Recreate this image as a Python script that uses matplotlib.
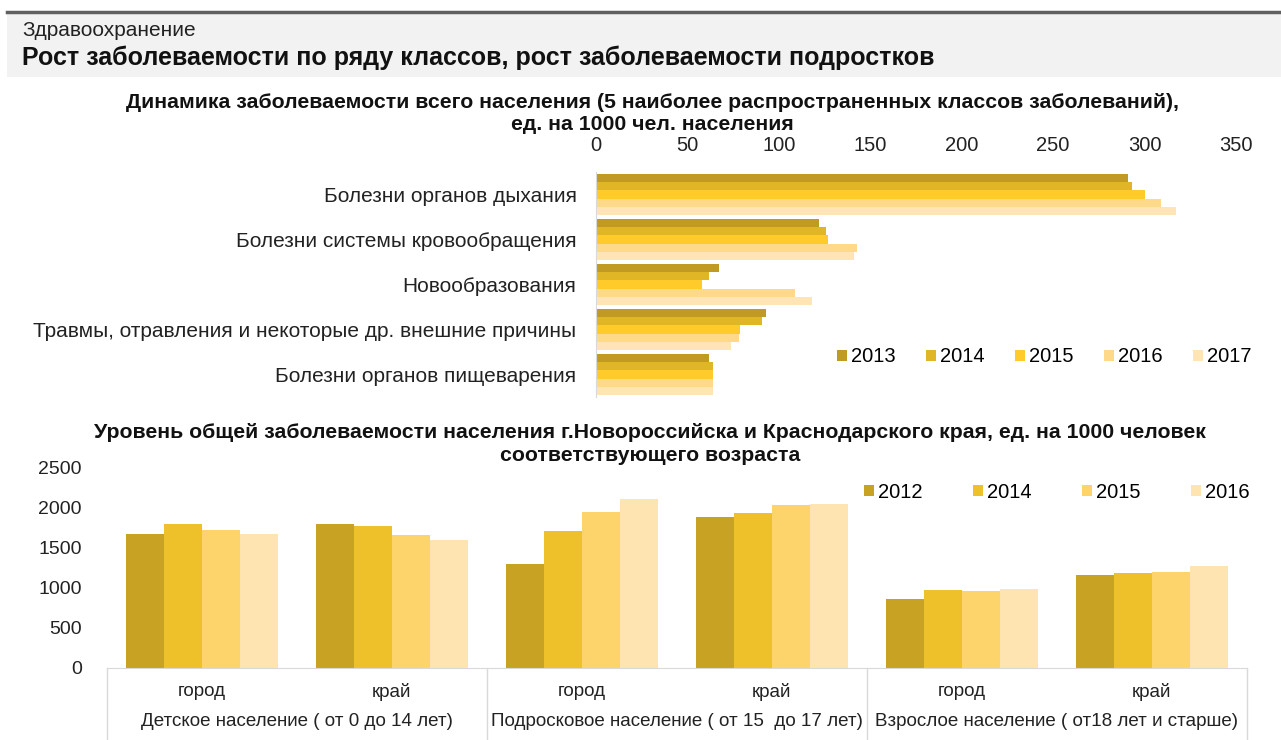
import numpy as np
import matplotlib
matplotlib.use("Agg")
import matplotlib.pyplot as plt
from matplotlib.patches import Rectangle
from matplotlib.lines import Line2D

plt.rcParams['font.family'] = ['Liberation Sans', 'DejaVu Sans']

# top chart data
diseases = ["Болезни органов дыхания", "Болезни системы кровообращения", "Новообразования",
            "Травмы, отравления и некоторые др. внешние причины", "Болезни органов пищеварения"]
top_years = ["2013", "2014", "2015", "2016", "2017"]
v2013 = [291, 122, 67, 93, 62]
v2014 = [293, 126, 62, 91, 64]
v2015 = [300, 127, 58, 79, 64]
v2016 = [309, 143, 109, 78, 64]
v2017 = [317, 141, 118, 74, 64]
top_vals = [v2013, v2014, v2015, v2016, v2017]
top_colors = ["#c09a22", "#e0b526", "#ffcb2a", "#ffd98a", "#ffe5b6"]

# bottom chart data
places = ["город", "край", "город", "край", "город", "край"]
groups = ["Детское население ( от 0 до 14 лет)", "Подросковое население ( от 15  до 17 лет)",
          "Взрослое население ( от18 лет и старше)"]
bot_years = ["2012", "2014", "2015", "2016"]
b2012 = [1679, 1804, 1304, 1887, 867, 1158]
b2014 = [1800, 1779, 1717, 1937, 979, 1187]
b2015 = [1729, 1658, 1950, 2033, 958, 1204]
b2016 = [1679, 1604, 2117, 2050, 983, 1275]
bot_vals = [b2012, b2014, b2015, b2016]
bot_colors = ["#c8a222", "#eec12b", "#fdd46c", "#fde4b0"]

W, H = 1281, 740
fig = plt.figure(figsize=(W / 100, H / 100), dpi=100)

def fbox(l, t, r, b):
    return [l / W, 1 - b / H, (r - l) / W, (b - t) / H]

# header
fig.patches.append(Rectangle((7 / W, 1 - 77 / H), 1, 64 / H, transform=fig.transFigure,
                             facecolor="#f2f2f2", edgecolor="none", zorder=0))
fig.add_artist(Line2D([7 / W, 1], [1 - 12 / H, 1 - 12 / H], color="#606060", lw=2.5))
fig.text(22 / W, 1 - 31 / H, "Здравоохранение", fontsize=15, va="center", color="#222222")
fig.text(22 / W, 1 - 58 / H, "Рост заболеваемости по ряду классов, рост заболеваемости подростков",
         fontsize=18, fontweight="bold", va="center", color="#111111")

# top chart
ax = fig.add_axes(fbox(596, 172, 1236, 397))
y = np.arange(len(diseases))
bh = 0.18
for j, vals in enumerate(top_vals):
    ax.barh(y + (j - 2) * bh, vals, height=bh, color=top_colors[j], label=top_years[j])
ax.set_ylim(4.5, -0.5)
ax.set_xlim(0, 350)
ax.xaxis.tick_top()
ax.set_xticks(np.arange(0, 351, 50))
ax.tick_params(axis="x", length=0, pad=12, labelsize=14.5, labelcolor="#222222")
ax.set_yticks(y)
ax.set_yticklabels(diseases)
ax.tick_params(axis="y", length=0, pad=14, labelsize=15, labelcolor="#222222")
for s in ["top", "right", "bottom"]:
    ax.spines[s].set_visible(False)
ax.spines["left"].set_color("#d9d9d9")
ax.legend(loc="center left", bbox_to_anchor=(233 / 640, (397 - 357) / 225), ncol=5, frameon=False,
          fontsize=14.5, handlelength=0.5, handleheight=0.5, columnspacing=1.5, handletextpad=0.2,
          borderaxespad=0)
fig.text(652 / W, 1 - 103 / H, "Динамика заболеваемости всего населения (5 наиболее распространенных классов заболеваний),",
         ha="center", va="center", fontsize=15.3, fontweight="bold", color="#111111")
fig.text(652 / W, 1 - 125 / H, "ед. на 1000 чел. населения",
         ha="center", va="center", fontsize=15.3, fontweight="bold", color="#111111")

# bottom chart
bx = fig.add_axes(fbox(106.7, 468, 1246.7, 668))
x = np.arange(len(places))
bw = 0.2
for j, vals in enumerate(bot_vals):
    bx.bar(x + (j - 1.5) * bw, vals, width=bw, color=bot_colors[j], label=bot_years[j])
bx.set_xlim(-0.5, 5.5)
bx.set_ylim(0, 2500)
bx.set_yticks(np.arange(0, 2501, 500))
bx.tick_params(axis="y", length=0, pad=18, labelsize=14, labelcolor="#222222")
bx.set_xticks([])
for s in ["top", "right", "left"]:
    bx.spines[s].set_visible(False)
bx.spines["bottom"].set_color("#d9d9d9")
tr = bx.get_xaxis_transform()
for i, p in enumerate(places):
    bx.text(i, -0.12, p, transform=tr, ha="center", va="center", fontsize=13.5, color="#222222")
for g, name in enumerate(groups):
    bx.text(2 * g + 0.5, -0.27, name, transform=tr, ha="center", va="center", fontsize=13.5, color="#222222")
for xs in [-0.5, 1.5, 3.5, 5.5]:
    bx.plot([xs, xs], [0, -0.36], transform=tr, color="#d9d9d9", lw=1, clip_on=False)
bx.legend(loc="center left", bbox_to_anchor=((856 - 106.7) / 1140, (668 - 492) / 200), ncol=4,
          frameon=False, fontsize=14.5, handlelength=0.5, handleheight=0.5, columnspacing=2.5,
          handletextpad=0.2, borderaxespad=0)
fig.text(650 / W, 1 - 432 / H,
         "Уровень общей заболеваемости населения г.Новороссийска и Краснодарского края, ед. на 1000 человек",
         ha="center", va="center", fontsize=15.3, fontweight="bold", color="#111111")
fig.text(650 / W, 1 - 455 / H, "соответствующего возраста",
         ha="center", va="center", fontsize=15.3, fontweight="bold", color="#111111")

fig.savefig("out.png", dpi=100)
